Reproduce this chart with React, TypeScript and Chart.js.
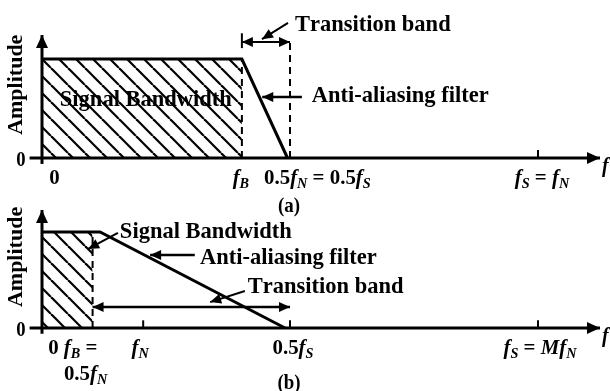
import React, { useEffect, useRef } from 'react';
import { Chart, registerables } from 'chart.js';
Chart.register(...registerables);

// All frequencies are expressed as a fraction of the sampling frequency fS.
// ---------- Panel (a) ----------
const aBandX = [0, 0.403];            // signal bandwidth 0..fB
const aBandY = [1, 1];
const aFilterX = [0, 0.403, 0.495];   // anti-aliasing filter response
const aFilterY = [1, 1, 0];
const aDashX = [0.403, 0.5];          // fB and 0.5fN guide lines
const aDashTop = [1, 1.19];
const aTickValues = [0, 0.403, 0.5, 1];
const aTickLabels = ['0', 'f_B', '0.5f_N = 0.5f_S', 'f_S = f_N'];
const aMarkTicks = [1];

// ---------- Panel (b) ----------
const bBandX = [0, 0.102];
const bBandY = [1, 1];
const bFilterX = [0, 0.117, 0.49];
const bFilterY = [1, 1, 0];
const bDashX = [0.102];
const bDashTop = [1];
const bTickValues = [0, 0.102, 0.204, 0.5, 1];
const bTickLabels = ['0', 'f_B =\n0.5f_N', 'f_N', '0.5f_S', 'f_S = Mf_N'];
const bMarkTicks = [0.204, 0.5, 1];

const FONT = '"Liberation Serif", "Times New Roman", serif';
const X_MIN = 0;
const X_MAX = 1.13;
const Y_MIN = 0;
const Y_MAX = 1.25;

type Seg = { t: string; italic: boolean; sub: boolean };
function parseRich(s: string, math: boolean): Seg[] {
  const out: Seg[] = [];
  for (let i = 0; i < s.length; i++) {
    let ch = s[i];
    let sub = false;
    if (ch === '_') { sub = true; i++; ch = s[i]; }
    out.push({ t: ch, italic: math && /[A-Za-z]/.test(ch), sub });
  }
  return out;
}

function drawRich(ctx: CanvasRenderingContext2D, s: string, x: number, y: number, size: number, align: string, sx: number, math = false) {
  const segs = parseRich(s, math);
  const fontFor = (g: Seg) =>
    g.sub ? `italic bold ${Math.round(size * 0.68)}px ${FONT}` : g.italic ? `italic bold ${size}px ${FONT}` : `bold ${size}px ${FONT}`;
  let w = 0;
  const widths: number[] = [];
  for (const g of segs) { ctx.font = fontFor(g); const m = ctx.measureText(g.t).width; widths.push(m); w += m; }
  const total = w * sx;
  const x0 = align === 'center' ? x - total / 2 : align === 'right' ? x - total : x;
  ctx.save();
  ctx.translate(x0, y);
  ctx.scale(sx, 1);
  ctx.fillStyle = '#000';
  ctx.textBaseline = 'alphabetic';
  ctx.textAlign = 'left';
  let cx = 0;
  segs.forEach((g, i) => {
    ctx.font = fontFor(g);
    ctx.fillText(g.t, cx, g.sub ? size * 0.18 : 0);
    cx += widths[i];
  });
  ctx.restore();
}

function arrowHead(ctx: CanvasRenderingContext2D, fx: number, fy: number, tx: number, ty: number, len = 11, half = 5) {
  const a = Math.atan2(ty - fy, tx - fx);
  ctx.beginPath();
  ctx.moveTo(tx, ty);
  ctx.lineTo(tx - len * Math.cos(a) + half * Math.sin(a), ty - len * Math.sin(a) - half * Math.cos(a));
  ctx.lineTo(tx - len * Math.cos(a) - half * Math.sin(a), ty - len * Math.sin(a) + half * Math.cos(a));
  ctx.closePath();
  ctx.fillStyle = '#000';
  ctx.fill();
}

function hatchPattern(ctx: CanvasRenderingContext2D) {
  const s = 17;
  const c = document.createElement('canvas');
  c.width = s; c.height = s;
  const g = c.getContext('2d')!;
  g.strokeStyle = '#000';
  g.lineWidth = 2.2;
  for (const k of [-s, 0, s]) { g.beginPath(); g.moveTo(k, 0); g.lineTo(k + s, s); g.stroke(); }
  return ctx.createPattern(c, 'repeat');
}

const zip = (xs: number[], ys: number[]) => xs.map((x, i) => ({ x, y: ys[i] }));

type Arrow = { from: [number, number]; to: [number, number]; both?: boolean; w?: number };
type Text = { text: string; x: number; y: number };
type TickStyle = { dx: number; align: string };

interface PanelSpec {
  bandX: number[]; bandY: number[];
  filterX: number[]; filterY: number[];
  dashX: number[]; dashTop: number[];
  tickValues: number[]; tickLabels: string[]; tickStyle: TickStyle[];
  markTicks: number[];
  yArrowTip: number;
  arrows: Arrow[];
  texts: Text[];
  solidMarks: [number, number, number][];
  tickBaseline: number;
  caption: string; captionX: number; captionBaseline: number;
  padTop: number; padBottom: number;
}

const panelA: PanelSpec = {
  bandX: aBandX, bandY: aBandY, filterX: aFilterX, filterY: aFilterY,
  dashX: aDashX, dashTop: aDashTop,
  tickValues: aTickValues, tickLabels: aTickLabels,
  tickStyle: [{ dx: 12.5, align: 'center' }, { dx: -1, align: 'center' }, { dx: -26, align: 'left' }, { dx: 4, align: 'center' }],
  markTicks: aMarkTicks,
  yArrowTip: 1.242,
  arrows: [
    { from: [0.403, 1.172], to: [0.5, 1.172], both: true, w: 2 },
    { from: [0.496, 1.364], to: [0.4435, 1.2], w: 2 },
    { from: [0.524, 0.616], to: [0.444, 0.616], w: 2.5 },
  ],
  texts: [
    { text: 'Transition band', x: 0.510, y: 1.283 },
    { text: 'Anti-aliasing filter', x: 0.544, y: 0.566 },
    { text: 'Signal Bandwidth', x: 0.036, y: 0.525 },
  ],
  solidMarks: [[0.403, 1.11, 1.26]],
  tickBaseline: 26,
  caption: '(a)', captionX: 0.5, captionBaseline: 212,
  padTop: 158 - 99 * Y_MAX, padBottom: 222 - 158,
};

const panelB: PanelSpec = {
  bandX: bBandX, bandY: bBandY, filterX: bFilterX, filterY: bFilterY,
  dashX: bDashX, dashTop: bDashTop,
  tickValues: bTickValues, tickLabels: bTickLabels,
  tickStyle: [{ dx: 11.5, align: 'center' }, { dx: -12, align: 'center' }, { dx: -3, align: 'center' }, { dx: 3, align: 'center' }, { dx: 2, align: 'center' }],
  markTicks: bMarkTicks,
  yArrowTip: 1.229,
  arrows: [
    { from: [0.102, 0.219], to: [0.5, 0.219], both: true, w: 2.5 },
    { from: [0.153, 0.99], to: [0.093, 0.823], w: 2 },
    { from: [0.308, 0.76], to: [0.218, 0.76], w: 2.5 },
    { from: [0.409, 0.385], to: [0.339, 0.27], w: 2 },
  ],
  texts: [
    { text: 'Signal Bandwidth', x: 0.157, y: 0.9375 },
    { text: 'Anti-aliasing filter', x: 0.3185, y: 0.667 },
    { text: 'Transition band', x: 0.415, y: 0.365 },
  ],
  solidMarks: [],
  tickBaseline: 26,
  caption: '(b)', captionX: 0.5, captionBaseline: 389 - 195,
  padTop: 133 - 96 * Y_MAX, padBottom: 196 - 133,
};

function makeChart(canvas: HTMLCanvasElement, p: PanelSpec) {
  const ctx = canvas.getContext('2d')!;
  const pattern = hatchPattern(ctx);
  const line = (data: any[], extra: any = {}) => ({
    data, borderColor: '#000', borderWidth: 3, pointRadius: 0, fill: false, clip: false, tension: 0, ...extra,
  });
  const datasets: any[] = [
    line([{ x: -0.025, y: 0 }, { x: 1.125, y: 0 }]),
    line([{ x: 0, y: -0.06 }, { x: 0, y: p.yArrowTip }]),
    line(zip(p.filterX, p.filterY)),
    ...p.dashX.map((x, i) => line([{ x, y: 0 }, { x, y: p.dashTop[i] }], { borderWidth: 2, borderDash: [7, 5] })),
    ...p.markTicks.map((x) => line([{ x, y: 0 }, { x, y: 0.08 }], { borderWidth: 2 })),
    ...p.solidMarks.map(([x, y0, y1]) => line([{ x, y: y0 }, { x, y: y1 }], { borderWidth: 2 })),
    { data: zip(p.bandX, p.bandY), fill: 'origin', backgroundColor: pattern, borderWidth: 0, pointRadius: 0, clip: false },
  ];

  const annot = {
    id: 'annot',
    afterDraw(chart: any) {
      const c: CanvasRenderingContext2D = chart.ctx;
      const xs = chart.scales.x, ys = chart.scales.y;
      const px = (v: number) => xs.getPixelForValue(v);
      const py = (v: number) => ys.getPixelForValue(v);
      c.save();
      // axis arrow heads
      arrowHead(c, px(1.1), py(0), px(1.125), py(0), 13, 6);
      arrowHead(c, px(0), py(p.yArrowTip - 0.1), px(0), py(p.yArrowTip), 13, 6);
      // annotation arrows
      c.strokeStyle = '#000';
      for (const a of p.arrows) {
        const fx = px(a.from[0]), fy = py(a.from[1]), tx = px(a.to[0]), ty = py(a.to[1]);
        c.lineWidth = a.w ?? 2;
        c.beginPath(); c.moveTo(fx, fy); c.lineTo(tx, ty); c.stroke();
        arrowHead(c, fx, fy, tx, ty);
        if (a.both) arrowHead(c, tx, ty, fx, fy);
      }
      // annotation texts
      for (const t of p.texts) drawRich(c, t.text, px(t.x), py(t.y), 22.5, 'left', 1);
      // tick labels
      p.tickValues.forEach((v, i) => {
        const st = p.tickStyle[i];
        const lines = p.tickLabels[i].split('\n');
        lines.forEach((ln, k) => {
          const dx = k === 0 ? st.dx : st.dx + 5;
          drawRich(c, ln, px(v) + dx, py(0) + p.tickBaseline + k * 26, 22, st.align, 0.95, true);
        });
      });
      // y zero label and axis names
      drawRich(c, '0', px(0) - 21, py(0) + 8, 22, 'center', 0.85);
      drawRich(c, 'f', px(1.125) + 2, py(0) + 14, 22, 'left', 0.9, true);
      c.save();
      c.translate(px(0) - 20, py(0.74));
      c.rotate(-Math.PI / 2);
      drawRich(c, 'Amplitude', 0, 0, 22, 'center', 1);
      c.restore();
      drawRich(c, p.caption, px(p.captionX) - 1, p.captionBaseline, 21, 'center', 0.9);
      c.restore();
    },
  };

  return new Chart(canvas, {
    type: 'line',
    data: { datasets },
    options: {
      animation: false,
      responsive: false,
      events: [],
      layout: { padding: { left: 42, right: 610 - 42 - 496 * (X_MAX - X_MIN), top: p.padTop, bottom: p.padBottom } },
      plugins: { legend: { display: false }, tooltip: { enabled: false } },
      scales: {
        x: { type: 'linear', min: X_MIN, max: X_MAX, display: false },
        y: { type: 'linear', min: Y_MIN, max: Y_MAX, display: false },
      },
    },
    plugins: [annot],
  } as any);
}

export default function App() {
  const topRef = useRef<HTMLCanvasElement>(null);
  const botRef = useRef<HTMLCanvasElement>(null);
  useEffect(() => {
    const a = makeChart(topRef.current!, panelA);
    const b = makeChart(botRef.current!, panelB);
    return () => { a.destroy(); b.destroy(); };
  }, []);
  return (
    <div style={{ position: 'absolute', left: 0, top: 0, width: 610, height: 391, background: '#fff', overflow: 'hidden' }}>
      <canvas ref={topRef} width={610} height={222} style={{ position: 'absolute', left: 0, top: 0, width: 610, height: 222 }} />
      <canvas ref={botRef} width={610} height={196} style={{ position: 'absolute', left: 0, top: 195, width: 610, height: 196 }} />
    </div>
  );
}
